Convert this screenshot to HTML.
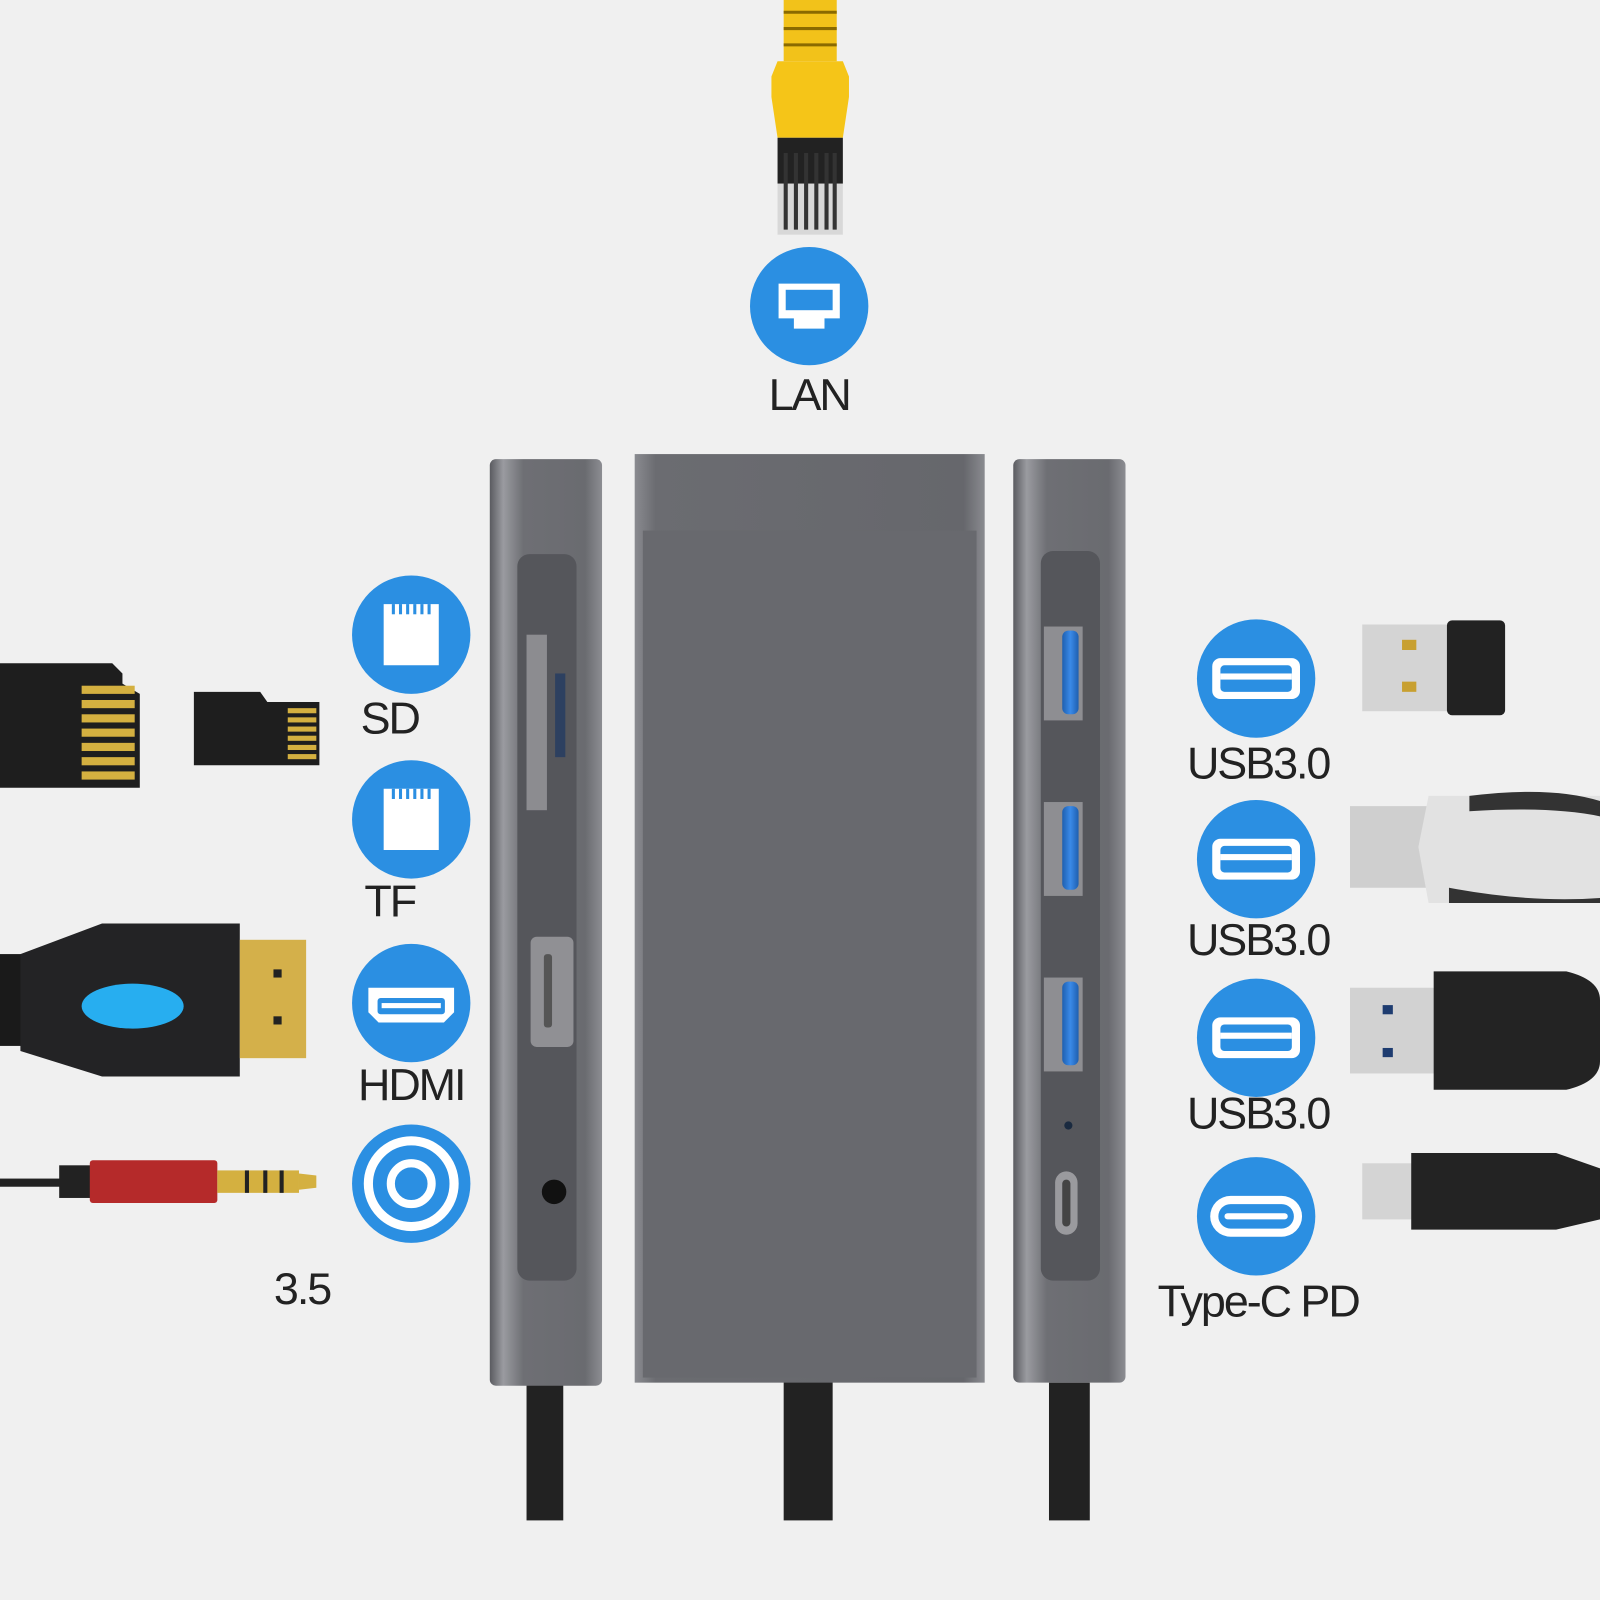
<!DOCTYPE html>
<html><head><meta charset="utf-8"><style>
html,body{margin:0;padding:0;background:#f0f0f0}
svg{display:block}
text{font-family:"Liberation Sans",sans-serif;fill:#222;font-size:44px;text-anchor:middle;letter-spacing:-2px}
</style></head><body>
<svg width="1600" height="1600" viewBox="0 0 1568 1568" xmlns="http://www.w3.org/2000/svg">
<defs>
<linearGradient id="bar" x1="0" x2="1" y1="0" y2="0">
<stop offset="0" stop-color="#5a5b60"/><stop offset="0.12" stop-color="#9a9ba0"/><stop offset="0.3" stop-color="#6e6f74"/><stop offset="0.85" stop-color="#6a6b70"/><stop offset="1" stop-color="#8c8d92"/></linearGradient>
<linearGradient id="mid" x1="0" x2="1" y1="0" y2="0">
<stop offset="0" stop-color="#8a8b90"/><stop offset="0.06" stop-color="#6b6c71"/><stop offset="0.94" stop-color="#66676c"/><stop offset="1" stop-color="#8a8b90"/></linearGradient>
<linearGradient id="usbb" x1="0" x2="1"><stop offset="0" stop-color="#1e5fb0"/><stop offset="0.5" stop-color="#3a8ae8"/><stop offset="1" stop-color="#1e5fb0"/></linearGradient>
</defs>
<rect width="1568" height="1568" fill="#f0f0f0"/>

<!-- LAN cable -->
<rect x="768" y="0" width="52" height="60" fill="#f2c21a"/>
<g stroke="#8a6a00" stroke-width="3"><line x1="768" y1="12" x2="820" y2="12"/><line x1="768" y1="28" x2="820" y2="28"/><line x1="768" y1="44" x2="820" y2="44"/></g>
<path d="M762 60 H826 L832 75 V95 L826 135 H762 L756 95 V75Z" fill="#f5c518"/>
<rect x="762" y="135" width="64" height="45" fill="#222"/>
<rect x="762" y="180" width="64" height="50" fill="#d8d8d8"/>
<g stroke="#333" stroke-width="4"><line x1="770" y1="150" x2="770" y2="225"/><line x1="780" y1="150" x2="780" y2="225"/><line x1="790" y1="150" x2="790" y2="225"/><line x1="800" y1="150" x2="800" y2="225"/><line x1="810" y1="150" x2="810" y2="225"/><line x1="818" y1="150" x2="818" y2="225"/></g>

<!-- circles -->
<g fill="#2b8fe2">
<circle cx="793" cy="300" r="58"/>
<circle cx="403" cy="622" r="58"/><circle cx="403" cy="803" r="58"/><circle cx="403" cy="983" r="58"/><circle cx="403" cy="1160" r="58"/>
<circle cx="1231" cy="665" r="58"/><circle cx="1231" cy="842" r="58"/><circle cx="1231" cy="1017" r="58"/><circle cx="1231" cy="1192" r="58"/>
</g>
<!-- icons -->
<g fill="#fff">
<path d="M763 278 H823 V312 H808 V322 H778 V312 H763Z"/>
<path d="M376 592 H430 V652 H376 V608Z"/>
<path d="M376 773 H430 V833 H376 V789Z"/>
<path d="M361 968 H445 V992 L435 1002 H371 L361 992Z"/>
<rect x="1188" y="645" width="86" height="40" rx="8"/><rect x="1188" y="822" width="86" height="40" rx="8"/><rect x="1188" y="997" width="86" height="40" rx="8"/>
<rect x="1186" y="1172" width="90" height="40" rx="20"/>
</g>
<g fill="#2b8fe2">
<rect x="770" y="284" width="46" height="20"/>
<g><rect x="384" y="592" width="3" height="10"/><rect x="391" y="592" width="3" height="10"/><rect x="398" y="592" width="3" height="10"/><rect x="405" y="592" width="3" height="10"/><rect x="412" y="592" width="3" height="10"/><rect x="419" y="592" width="3" height="10"/></g>
<g><rect x="384" y="773" width="3" height="10"/><rect x="391" y="773" width="3" height="10"/><rect x="398" y="773" width="3" height="10"/><rect x="405" y="773" width="3" height="10"/><rect x="412" y="773" width="3" height="10"/><rect x="419" y="773" width="3" height="10"/></g>
<rect x="1196" y="652" width="70" height="26" rx="4"/><rect x="1196" y="829" width="70" height="26" rx="4"/><rect x="1196" y="1004" width="70" height="26" rx="4"/>
<rect x="1194" y="1180" width="74" height="24" rx="12"/>
<rect x="370" y="978" width="66" height="16" rx="3"/>
</g>
<g fill="#fff"><rect x="1196" y="660" width="70" height="6"/><rect x="1196" y="837" width="70" height="6"/><rect x="1196" y="1012" width="70" height="6"/><rect x="1200" y="1189" width="62" height="6" rx="3"/><rect x="374" y="983" width="58" height="5"/></g>
<g fill="none" stroke="#fff"><circle cx="403" cy="1160" r="42" stroke-width="9"/><circle cx="403" cy="1160" r="20" stroke-width="8"/></g>

<!-- labels -->
<text x="793" y="402">LAN</text>
<text x="382" y="719">SD</text>
<text x="382" y="898">TF</text>
<text x="403" y="1078">HDMI</text>
<text x="296" y="1278">3.5</text>
<text x="1233" y="763">USB3.0</text>
<text x="1233" y="936">USB3.0</text>
<text x="1233" y="1106">USB3.0</text>
<text x="1233" y="1290">Type-C PD</text>

<!-- hub cables -->
<rect x="516" y="1355" width="36" height="135" fill="#222"/>
<rect x="768" y="1350" width="48" height="140" fill="#222"/>
<rect x="1028" y="1355" width="40" height="135" fill="#222"/>
<!-- hub bars -->
<rect x="480" y="450" width="110" height="908" rx="6" fill="url(#bar)"/>
<rect x="507" y="543" width="58" height="712" rx="12" fill="#55565b"/>
<rect x="993" y="450" width="110" height="905" rx="6" fill="url(#bar)"/>
<rect x="1020" y="540" width="58" height="715" rx="12" fill="#55565b"/>
<rect x="622" y="445" width="343" height="910" fill="url(#mid)"/>
<rect x="630" y="520" width="327" height="830" fill="#68696e"/>
<!-- left ports -->
<rect x="516" y="622" width="20" height="172" fill="#8c8c90"/>
<rect x="544" y="660" width="10" height="82" fill="#2d4060"/>
<rect x="520" y="918" width="42" height="108" rx="6" fill="#909094"/>
<rect x="533" y="935" width="8" height="72" rx="3" fill="#555"/>
<circle cx="543" cy="1168" r="12" fill="#111"/>
<!-- right ports -->
<g><rect x="1023" y="614" width="38" height="92" fill="#8e8e92"/><rect x="1041" y="618" width="16" height="82" rx="6" fill="url(#usbb)"/>
<rect x="1023" y="786" width="38" height="92" fill="#8e8e92"/><rect x="1041" y="790" width="16" height="82" rx="6" fill="url(#usbb)"/>
<rect x="1023" y="958" width="38" height="92" fill="#8e8e92"/><rect x="1041" y="962" width="16" height="82" rx="6" fill="url(#usbb)"/></g>
<circle cx="1047" cy="1103" r="4" fill="#1a2a40"/>
<rect x="1034" y="1148" width="22" height="62" rx="11" fill="#9a9a9e"/>
<rect x="1041" y="1156" width="8" height="46" rx="4" fill="#444"/>

<!-- SD card left -->
<path d="M0 650 H110 L120 660 V670 L137 680 V772 H0Z" fill="#1e1e1e"/>
<g fill="#d4b040"><rect x="80" y="672" width="52" height="8"/><rect x="80" y="686" width="52" height="8"/><rect x="80" y="700" width="52" height="8"/><rect x="80" y="714" width="52" height="8"/><rect x="80" y="728" width="52" height="8"/><rect x="80" y="742" width="52" height="8"/><rect x="80" y="756" width="52" height="8"/></g>
<!-- micro SD -->
<path d="M190 678 H255 L262 688 H290 V688 H313 V750 H190Z" fill="#1e1e1e"/>
<g fill="#d4b040"><rect x="282" y="694" width="28" height="5"/><rect x="282" y="703" width="28" height="5"/><rect x="282" y="712" width="28" height="5"/><rect x="282" y="721" width="28" height="5"/><rect x="282" y="730" width="28" height="5"/><rect x="282" y="739" width="28" height="5"/></g>

<!-- HDMI cable -->
<rect x="0" y="935" width="30" height="90" fill="#1a1a1a"/>
<path d="M20 935 L100 905 H235 V1055 H100 L20 1030Z" fill="#232325"/>
<ellipse cx="130" cy="986" rx="50" ry="22" fill="#27aef0"/>
<rect x="235" y="921" width="65" height="116" fill="#d4b04a"/>
<rect x="268" y="950" width="8" height="8" fill="#222"/><rect x="268" y="996" width="8" height="8" fill="#222"/>
<!-- audio jack -->
<rect x="0" y="1155" width="60" height="8" fill="#222"/>
<rect x="58" y="1142" width="32" height="32" fill="#222"/>
<rect x="88" y="1137" width="125" height="42" rx="3" fill="#b52a2a"/>
<rect x="213" y="1147" width="80" height="22" fill="#d4b040"/>
<path d="M293 1150 L310 1152 V1164 L293 1166Z" fill="#d4b040"/>
<g fill="#222"><rect x="240" y="1147" width="4" height="22"/><rect x="258" y="1147" width="4" height="22"/><rect x="274" y="1147" width="4" height="22"/></g>

<!-- USB dongle -->
<rect x="1335" y="612" width="85" height="85" fill="#d4d4d4"/>
<rect x="1374" y="627" width="14" height="10" fill="#c8a030"/><rect x="1374" y="668" width="14" height="10" fill="#c8a030"/>
<rect x="1418" y="608" width="57" height="93" rx="5" fill="#222"/>
<!-- flash drive -->
<rect x="1323" y="790" width="80" height="80" fill="#cfcfcf"/>
<path d="M1400 780 H1568 V885 H1400 L1390 830Z" fill="#e2e2e2"/>
<path d="M1440 780 Q1520 770 1568 785 V800 Q1520 790 1440 795Z" fill="#333"/>
<path d="M1420 870 Q1500 885 1568 880 V885 H1420Z" fill="#333"/>
<!-- USB A cable -->
<rect x="1323" y="968" width="85" height="84" fill="#d2d2d2"/>
<rect x="1355" y="985" width="10" height="9" fill="#1e3c70"/><rect x="1355" y="1027" width="10" height="9" fill="#1e3c70"/>
<path d="M1405 952 H1535 Q1568 960 1568 980 V1040 Q1568 1060 1535 1068 H1405Z" fill="#232323"/>
<!-- Type C cable -->
<rect x="1335" y="1140" width="50" height="55" fill="#d4d4d4"/>
<path d="M1383 1130 H1525 L1568 1145 V1195 L1525 1205 H1383Z" fill="#232323"/>
</svg>
</body></html>
